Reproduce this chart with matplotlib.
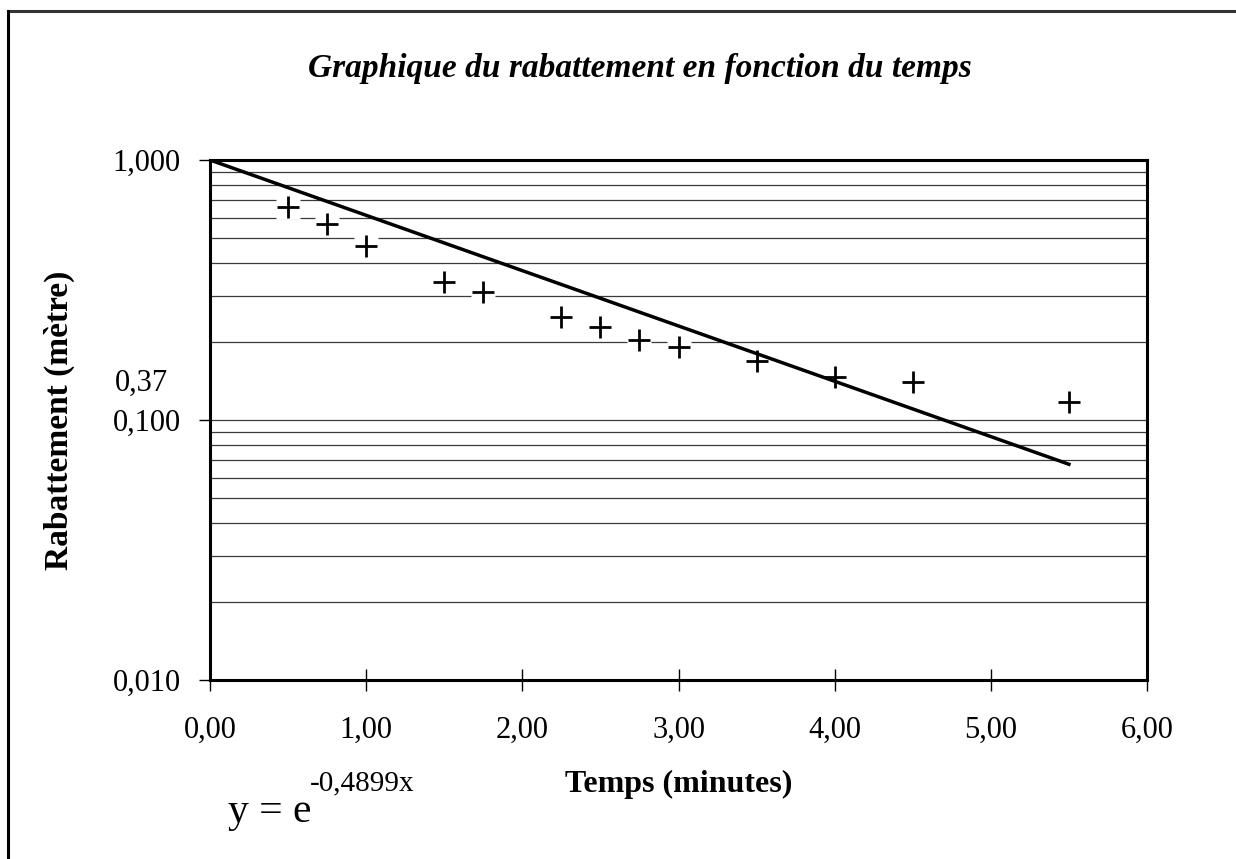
import numpy as np
import matplotlib.pyplot as plt
from matplotlib.ticker import FixedLocator, LogLocator, NullFormatter
from matplotlib.lines import Line2D

plt.rcParams['font.family'] = ['Liberation Serif', 'DejaVu Serif']

# measured points (temps en minutes, rabattement en metre)
temps = [0.5, 0.75, 1.0, 1.5, 1.75, 2.25, 2.5, 2.75, 3.0, 3.5, 4.0, 4.5, 5.5]
rabattement = [0.66, 0.567, 0.467, 0.34, 0.31, 0.249, 0.228, 0.203, 0.191,
               0.169, 0.146, 0.14, 0.117]

# trend line y = exp(-0.4899 x)
k = 0.4899
x_fit = [0.0, 5.5]

x_ticks = [0, 1, 2, 3, 4, 5, 6]
x_ticklabels = ['0,00', '1,00', '2,00', '3,00', '4,00', '5,00', '6,00']
y_ticks = [0.01, 0.1, 1.0]
y_ticklabels = ['0,010', '0,100', '1,000']

fig = plt.figure(figsize=(12.36, 8.59), dpi=100)
ax = fig.add_axes([210 / 1236, 1 - 680 / 859, 937 / 1236, 520 / 859])

ax.set_yscale('log')
ax.set_xlim(0, 6)
ax.set_ylim(0.01, 1.0)

# horizontal gridlines (major + minor)
ax.yaxis.set_minor_locator(LogLocator(base=10, subs=np.arange(2, 10)))
ax.yaxis.set_minor_formatter(NullFormatter())
ax.grid(True, which='both', axis='y', color='#3a3a3a', lw=0.9)
ax.set_axisbelow(True)

xf = np.array(x_fit)
ax.plot(xf, np.exp(-k * xf), color='black', lw=2.5, zorder=4)

# white box behind each marker, like the original
ax.plot(temps, rabattement, ls='none', marker='s', ms=17, mfc='white',
        mec='none', zorder=2)
ax.plot(temps, rabattement, ls='none', marker='+', ms=16, mew=2,
        color='black', zorder=3)

ax.yaxis.set_major_locator(FixedLocator(y_ticks))
ax.set_yticklabels(y_ticklabels)
ax.set_xticks(x_ticks)
ax.set_xticklabels(x_ticklabels)

ax.tick_params(axis='x', direction='inout', length=16, width=1, labelsize=22, pad=18)
ax.tick_params(axis='y', which='major', direction='out', length=8, width=1,
               labelsize=22, pad=13)
ax.tick_params(axis='y', which='minor', length=0)

for s in ax.spines.values():
    s.set_linewidth(2.2)

ax.set_xlabel('Temps (minutes)', fontsize=23, fontweight='bold', labelpad=18)
ax.set_ylabel('Rabattement (mètre)', fontsize=24, fontweight='bold', labelpad=27)

fig.text(640 / 1236, 1 - 68 / 859, 'Graphique du rabattement en fonction du temps',
         ha='center', va='center', fontsize=24, fontweight='bold', style='italic')

fig.text(168 / 1236, 1 - 383 / 859, '0,37', ha='right', va='center', fontsize=22)

fig.text(228 / 1236, 1 - 822 / 859, 'y = e', ha='left', va='baseline', fontsize=30)
fig.text(310 / 1236, 1 - 790 / 859, '-0,4899x', ha='left', va='baseline', fontsize=21)

# outer frame (top and left visible)
fig.add_artist(Line2D([8 / 1236, 1.0], [1 - 11 / 859, 1 - 11 / 859],
                      transform=fig.transFigure, color='#333333', lw=2.2))
fig.add_artist(Line2D([8 / 1236, 8 / 1236], [0, 1 - 11 / 859],
                      transform=fig.transFigure, color='black', lw=2.2))

fig.savefig('out.png', dpi=100)
